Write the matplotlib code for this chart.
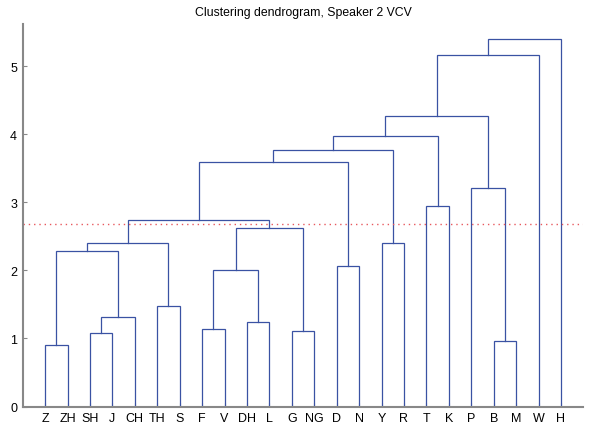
import numpy as np
import matplotlib
matplotlib.use("Agg")
import matplotlib.pyplot as plt

plt.rcParams.update({"font.family": ["Liberation Sans", "DejaVu Sans"], "font.size": 9})

# leaf order along x
leaves = ["Z", "ZH", "SH", "J", "CH", "TH", "S", "F", "V", "DH", "L", "G", "NG",
          "D", "N", "Y", "R", "T", "K", "P", "B", "M", "W", "H"]
# merges: ints refer to earlier merges (by index), strings to leaves
merge_left = ["Z", "SH", 1, 0, "TH", 3, "F", "DH", 6, "G", 8, 5, "D", 11, "Y", 13, "T", 15, "B", "P", 17, 20, 21]
merge_right = ["ZH", "J", "CH", 2, "S", 4, "V", "L", 7, "NG", 9, 10, "N", 12, "R", 14, "K", 16, "M", 18, 19, "W", "H"]
merge_height = [0.91, 1.08, 1.31, 2.28, 1.47, 2.40, 1.14, 1.24, 2.00, 1.11, 2.62, 2.74,
                2.07, 3.59, 2.40, 3.76, 2.95, 3.97, 0.96, 3.21, 4.27, 5.16, 5.40]
cutoff = 2.68

line_col = "#3a52a3"
fig = plt.figure(figsize=(5.89, 4.31), dpi=100)
ax = fig.add_axes([0.0385, 0.0545, 0.952, 0.888])

pos = {name: i + 1 for i, name in enumerate(leaves)}
node_x, node_h = [], []

def get(ref):
    if isinstance(ref, str):
        return pos[ref], 0.0
    return node_x[ref], node_h[ref]

for l, r, h in zip(merge_left, merge_right, merge_height):
    xl, hl = get(l)
    xr, hr = get(r)
    ax.plot([xl, xl, xr, xr], [hl, h, h, hr], color=line_col, lw=0.9, solid_joinstyle="miter")
    node_x.append((xl + xr) / 2)
    node_h.append(h)

ax.axhline(cutoff, color="#e8585e", ls=(0, (1, 2.8)), lw=1.0)

ax.set_xlim(0, len(leaves) + 1)
ax.set_ylim(0, 5.62)
ax.set_xticks(range(1, len(leaves) + 1))
ax.set_xticklabels(leaves)
ax.set_yticks(range(0, 6))
for s in ["top", "right"]:
    ax.spines[s].set_visible(False)
for s in ["left", "bottom"]:
    ax.spines[s].set_color("#888888")
    ax.spines[s].set_linewidth(1.5)
ax.tick_params(direction="in", length=3, color="#888888", labelsize=9, pad=4)
ax.set_title("Clustering dendrogram, Speaker 2 VCV", fontsize=8.8, pad=6)

fig.savefig("out.png", dpi=100)
